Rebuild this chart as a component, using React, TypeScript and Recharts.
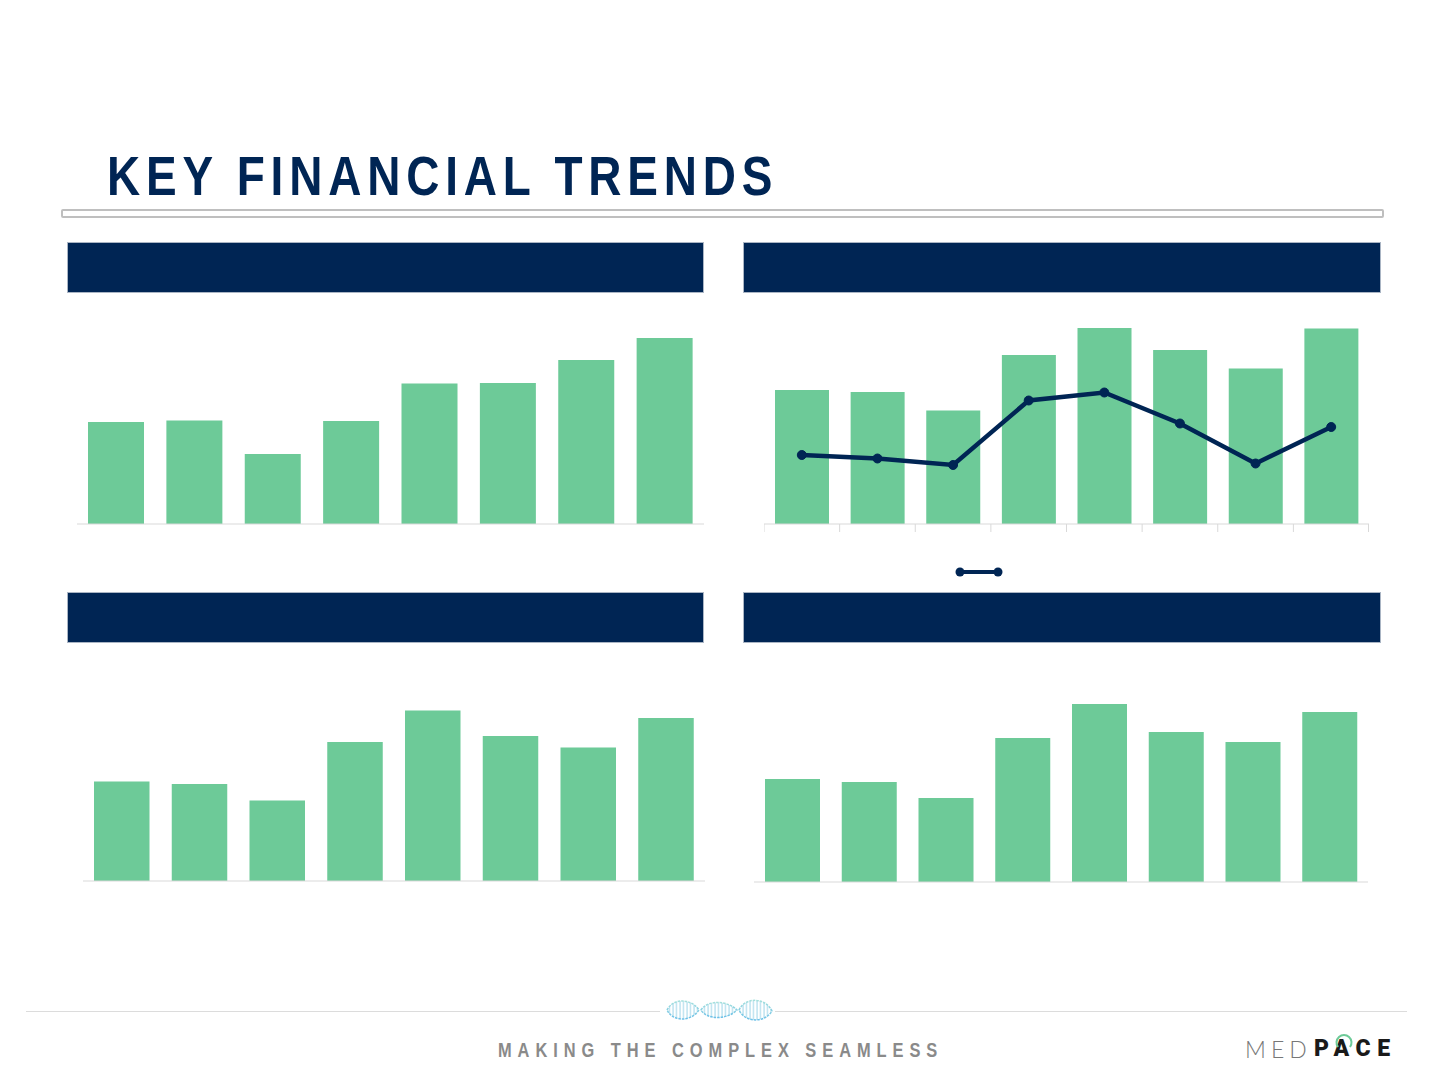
import React from "react";
import { ComposedChart, Bar, Line, XAxis, YAxis } from "recharts";

const NAVY = "#002554";
const GREEN = "#6dca98";
const AXIS = "#d9d9d9";

const categories = ["1", "2", "3", "4", "5", "6", "7", "8"];
const topLeftBars = [102, 103.5, 70, 103, 140.5, 141, 164, 186];
const topRightBars = [134, 132, 113.5, 169, 196, 174, 155.5, 195.5];
const topRightLine = [69, 65.5, 59, 123.5, 131.5, 100.5, 60.5, 97];
const bottomLeftBars = [99.5, 97, 80.5, 139, 170.5, 145, 133.5, 163];
const bottomRightBars = [103, 100, 84, 144, 178, 150, 140, 170];

const build = (bars: number[], line?: number[]) =>
  categories.map((c, i) => ({ c, bar: bars[i], line: line ? line[i] : undefined }));

function BandTick(props: any) {
  const { x, y, index, band } = props;
  const x0 = x - band / 2;
  const top = y - 8;
  return (
    <g>
      <line x1={x0} x2={x0} y1={top} y2={top + 8} stroke={AXIS} strokeWidth={1} />
      {index === categories.length - 1 && (
        <line x1={x0 + band - 0.5} x2={x0 + band - 0.5} y1={top} y2={top + 8} stroke={AXIS} strokeWidth={1} />
      )}
    </g>
  );
}

function Panel({ left, width, baseline, barSize, bars, line }: any) {
  const plot = 200;
  const extra = line ? 10 : 2;
  const band = width / categories.length;
  return (
    <div style={{ position: "absolute", left, top: baseline - plot }}>
      <ComposedChart
        width={width}
        height={plot + extra}
        data={build(bars, line)}
        margin={{ top: 0, right: 0, bottom: 0, left: 0 }}
      >
        <YAxis hide domain={[0, plot]} />
        <XAxis
          dataKey="c"
          height={extra}
          interval={0}
          axisLine={{ stroke: AXIS, strokeWidth: 1 }}
          tickLine={false}
          tick={line ? (p: any) => <BandTick {...p} band={band} /> : false}
        />
        <Bar dataKey="bar" fill={GREEN} barSize={barSize} isAnimationActive={false} />
        {line && (
          <Line
            dataKey="line"
            stroke={NAVY}
            strokeWidth={4.5}
            dot={{ r: 4.5, fill: NAVY, stroke: NAVY, strokeWidth: 1 }}
            isAnimationActive={false}
          />
        )}
      </ComposedChart>
    </div>
  );
}

function Header({ left, top }: { left: number; top: number }) {
  return (
    <div
      style={{
        position: "absolute",
        left,
        top,
        width: 637.5,
        height: 51,
        boxSizing: "border-box",
        background: NAVY,
        border: "1px solid #aab5c4",
      }}
    />
  );
}

function Dna() {
  const lenses = [
    "M2 13 C8 1 26 1 34 13 C26 25 8 25 2 13 Z",
    "M36 13 C42 3 62 3 72 13 C62 23 42 23 36 13 Z",
    "M74 13 C80 0 100 0 107 14 C100 26 80 26 74 13 Z",
  ];
  return (
    <svg style={{ position: "absolute", left: 665, top: 997 }} width={109} height={27}>
      <defs>
        <pattern id="rungs" width={3.5} height={27} patternUnits="userSpaceOnUse">
          <line x1={1} x2={1} y1={0} y2={27} stroke="#9ed5e8" strokeWidth={1} />
        </pattern>
        <linearGradient id="strand" x1="0" x2="0" y1="0" y2="1">
          <stop offset="0" stopColor="#a5e0dc" />
          <stop offset="1" stopColor="#6cc0e8" />
        </linearGradient>
      </defs>
      {lenses.map((d) => (
        <path key={d} d={d} fill="url(#rungs)" stroke="url(#strand)" strokeWidth={1.5} strokeDasharray="2.5 1" />
      ))}
    </svg>
  );
}

export default function App() {
  return (
    <div
      style={{
        position: "absolute",
        left: 0,
        top: 0,
        width: 1440,
        height: 1080,
        background: "#fff",
        overflow: "hidden",
        fontFamily: "'Liberation Sans', Arial, sans-serif",
      }}
    >
      <div
        style={{
          position: "absolute",
          left: 107,
          top: 144,
          fontSize: 56,
          lineHeight: "64px",
          fontWeight: 700,
          color: NAVY,
          letterSpacing: 7.12,
          whiteSpace: "nowrap",
          transform: "scaleX(0.82)",
          transformOrigin: "left center",
        }}
      >
        KEY FINANCIAL TRENDS
      </div>
      <div
        style={{
          position: "absolute",
          left: 61,
          top: 209,
          width: 1323,
          height: 9,
          boxSizing: "border-box",
          border: "2px solid #bfbfbf",
          borderRadius: 2,
        }}
      />

      <Header left={66.75} top={241.5} />
      <Header left={743.25} top={241.5} />
      <Header left={66.75} top={592} />
      <Header left={743.25} top={592} />

      <Panel left={77} width={627} baseline={523.5} barSize={56} bars={topLeftBars} />
      <Panel left={764} width={605} baseline={523.5} barSize={54} bars={topRightBars} line={topRightLine} />
      <Panel left={82.5} width={622} baseline={881} barSize={55.5} bars={bottomLeftBars} />
      <Panel left={754} width={614} baseline={882} barSize={55} bars={bottomRightBars} />

      <svg style={{ position: "absolute", left: 950, top: 562 }} width={60} height={20}>
        <line x1={10} x2={48} y1={10} y2={10} stroke={NAVY} strokeWidth={4} />
        <circle cx={10} cy={10} r={4.5} fill={NAVY} />
        <circle cx={48} cy={10} r={4.5} fill={NAVY} />
      </svg>

      <div style={{ position: "absolute", left: 26, top: 1011, width: 634, height: 1, background: "#dcdcdc" }} />
      <div style={{ position: "absolute", left: 775, top: 1011, width: 632, height: 1, background: "#dcdcdc" }} />
      <Dna />

      <div
        style={{
          position: "absolute",
          left: 498,
          top: 1039,
          fontSize: 20,
          lineHeight: "22px",
          fontWeight: 700,
          color: "#8a8a8a",
          letterSpacing: 7.27,
          whiteSpace: "nowrap",
          transform: "scaleX(0.82)",
          transformOrigin: "left center",
        }}
      >
        MAKING THE COMPLEX SEAMLESS
      </div>

      <div
        style={{
          position: "absolute",
          left: 1245,
          top: 1037,
          fontFamily: "Lato, sans-serif",
          fontSize: 23,
          lineHeight: "24px",
          fontWeight: 300,
          color: "#777",
          letterSpacing: 5,
          whiteSpace: "nowrap",
        }}
      >
        MED
      </div>
      <div
        style={{
          position: "absolute",
          left: 1314,
          top: 1037,
          fontFamily: "Roboto, sans-serif",
          fontSize: 23,
          lineHeight: "24px",
          fontWeight: 900,
          color: "#1a1a1a",
          letterSpacing: 6.6,
          whiteSpace: "nowrap",
        }}
      >
        PACE
      </div>
      <svg style={{ position: "absolute", left: 1333, top: 1034 }} width={22} height={16}>
        <path d="M5 13 A7.5 7.5 0 1 1 17 13" fill="none" stroke={GREEN} strokeWidth={2} />
      </svg>
    </div>
  );
}
